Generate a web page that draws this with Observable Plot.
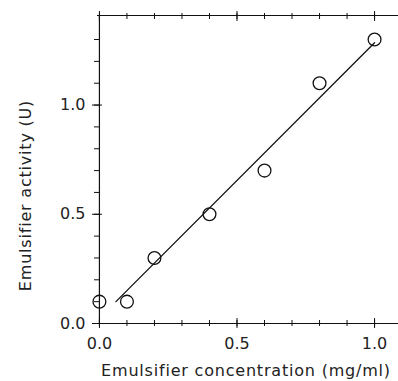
<!DOCTYPE html>
<html>
<head>
<meta charset="utf-8">
<script src="https://cdn.jsdelivr.net/npm/d3@7"></script>
<script src="https://cdn.jsdelivr.net/npm/@observablehq/plot@0.6"></script>
<style>
  html, body { margin: 0; padding: 0; background: #fff; }
  g[aria-label="text"] text { letter-spacing: 0.8px; }
</style>
</head>
<body>
<div id="chart"></div>
<script>
// Measured data (emulsifier concentration in mg/ml vs activity in U)
const concentration = [0, 0.1, 0.2, 0.4, 0.6, 0.8, 1.0];
const activity = [0.1, 0.1, 0.3, 0.5, 0.7, 1.1, 1.3];

// Hand-drawn fitted line endpoints
const fitConcentration = [0.06, 1.0];
const fitActivity = [0.10, 1.285];

// Axis ticks
const xMinorTicks = [0, 0.1, 0.2, 0.3, 0.4, 0.5, 0.6, 0.7, 0.8, 0.9, 1.0];
const xMajorTicks = [0, 0.5, 1.0];
const yMinorTicks = [0, 0.1, 0.2, 0.3, 0.4, 0.5, 0.6, 0.7, 0.8, 0.9, 1.0, 1.1, 1.2, 1.3];
const yMajorTicks = [0, 0.5, 1.0];

// Axis extents
const xDomain = [-0.007, 1.087];
const yDomain = [0, 1.41];

const xLabel = "Emulsifier concentration (mg/ml)";
const yLabel = "Emulsifier activity (U)";

const points = concentration.map((c, i) => ({c, a: activity[i]}));
const fit = fitConcentration.map((c, i) => ({c, a: fitActivity[i]}));

const ink = "#111";
const noText = () => "";

const chart = Plot.plot({
  width: 398,
  height: 381,
  marginLeft: 97,
  marginRight: 0,
  marginTop: 15,
  marginBottom: 58,
  style: {fontFamily: "DejaVu Sans", fontSize: "16px", color: "#222", background: "#fff"},
  x: {domain: xDomain},
  y: {domain: yDomain},
  marks: [
    // frame lines: bottom, top, left
    Plot.ruleY([yDomain[0], yDomain[1]], {stroke: ink, strokeWidth: 1.2}),
    Plot.ruleX([0], {stroke: ink, strokeWidth: 1.2}),
    // crossing ticks
    Plot.axisX(xMinorTicks, {anchor: "bottom", tickSize: 6, dy: -3, tickFormat: noText, label: null, stroke: ink}),
    Plot.axisX(xMajorTicks, {anchor: "bottom", tickSize: 10, dy: -5, tickFormat: noText, label: null, stroke: ink}),
    Plot.axisX(xMinorTicks, {anchor: "top", tickSize: 6, dy: 3, tickFormat: noText, label: null, stroke: ink}),
    Plot.axisX(xMajorTicks, {anchor: "top", tickSize: 10, dy: 5, tickFormat: noText, label: null, stroke: ink}),
    Plot.axisY(yMinorTicks, {anchor: "left", tickSize: 6, dx: 3, tickFormat: noText, label: null, stroke: ink}),
    Plot.axisY(yMajorTicks, {anchor: "left", tickSize: 10, dx: 5, tickFormat: noText, label: null, stroke: ink}),
    // tick labels
    Plot.axisX(xMajorTicks, {anchor: "bottom", tickSize: 0, tickPadding: 14, tickFormat: ".1f", label: null}),
    Plot.axisY(yMajorTicks, {anchor: "left", tickSize: 0, tickPadding: 12, tickFormat: ".1f", label: null}),
    // fitted line
    Plot.line(fit, {x: "c", y: "a", stroke: ink, strokeWidth: 1.3}),
    // data points
    Plot.dot(points, {x: "c", y: "a", r: 6.4, stroke: ink, strokeWidth: 1.3, fill: "none"}),
    // axis titles
    Plot.text([xLabel], {text: d => d, frameAnchor: "bottom", dx: -2, dy: 47, lineAnchor: "middle", fill: "#222"}),
    Plot.text([yLabel], {text: d => d, frameAnchor: "left", rotate: -90, dx: -72, dy: 26, lineAnchor: "middle", textAnchor: "middle", fill: "#222"})
  ]
});

document.getElementById("chart").appendChild(chart);
</script>
</body>
</html>
